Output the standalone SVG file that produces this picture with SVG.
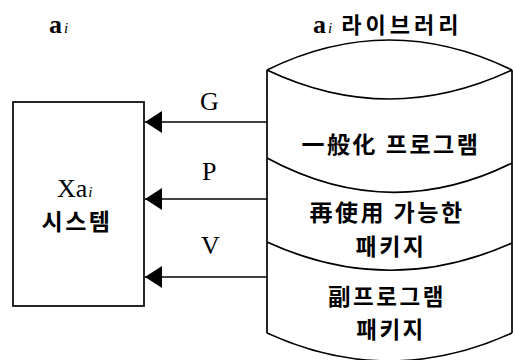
<svg xmlns="http://www.w3.org/2000/svg" width="515" height="360" viewBox="0 0 515 360">
<style>
.ln{fill:none;stroke:#000;stroke-width:1.7}
.lat{font-family:"Liberation Serif","Times New Roman",serif;font-size:26px;fill:#000}
.kr{font-family:"Noto Sans CJK KR","Noto Sans CJK SC",sans-serif;font-size:23px;font-weight:bold;fill:#000;text-anchor:middle;letter-spacing:2.5px}
.sm{font-size:22.5px}
.sub{font-style:italic;font-size:15px}
</style>
<defs>
<marker id="ah" markerUnits="userSpaceOnUse" markerWidth="18" markerHeight="24" refX="17" refY="11" orient="auto">
<polygon points="17,11 0,0 0,22" fill="#000"/>
</marker>
</defs>
<rect width="515" height="360" fill="#fff"/>
<g id="title-left"><text class="lat" x="49" y="33" font-weight="bold">a<tspan class="sub" font-weight="normal" dx="2">i</tspan></text></g>
<g id="title-right"><text class="lat" x="313" y="33" font-weight="bold">a<tspan class="sub" font-weight="normal" dx="2">i</tspan><tspan font-family="Noto Sans CJK KR,sans-serif" font-size="22px" letter-spacing="4px"> 라이브러리</tspan></text></g>
<g id="system">
<rect class="ln" x="13" y="102" width="131" height="204"/>
<text class="lat" x="57" y="197">Xa<tspan class="sub" dx="1">i</tspan></text>
<text class="kr" x="77" y="230" font-size="24px" letter-spacing="0px">시스템</text>
</g>
<g id="library">
<path class="ln" d="M267,70 Q389,10 512,70 M267,70 Q389,128 512,70 M267,70 L267,333 M512,70 L512,333 M267,158 Q389,224 512,163 M267,242 Q389,298 512,243 M267,333 Q389,389 512,333"/>
<text class="kr" x="391" y="153">一般化 프로그램</text>
<text class="kr" x="387" y="221">再使用 가능한</text>
<text class="kr" x="391" y="255">패키지</text>
<text class="kr sm" x="387" y="305">副프로그램</text>
<text class="kr sm" x="391" y="338">패키지</text>
</g>
<g id="connectors">
<line class="ln" x1="267" y1="122" x2="145" y2="122" marker-end="url(#ah)"/>
<line class="ln" x1="267" y1="199" x2="145" y2="199" marker-end="url(#ah)"/>
<line class="ln" x1="267" y1="277" x2="145" y2="277" marker-end="url(#ah)"/>
<text class="lat" x="200" y="110">G</text>
<text class="lat" x="202" y="180">P</text>
<text class="lat" x="201" y="254">V</text>
</g>
</svg>
